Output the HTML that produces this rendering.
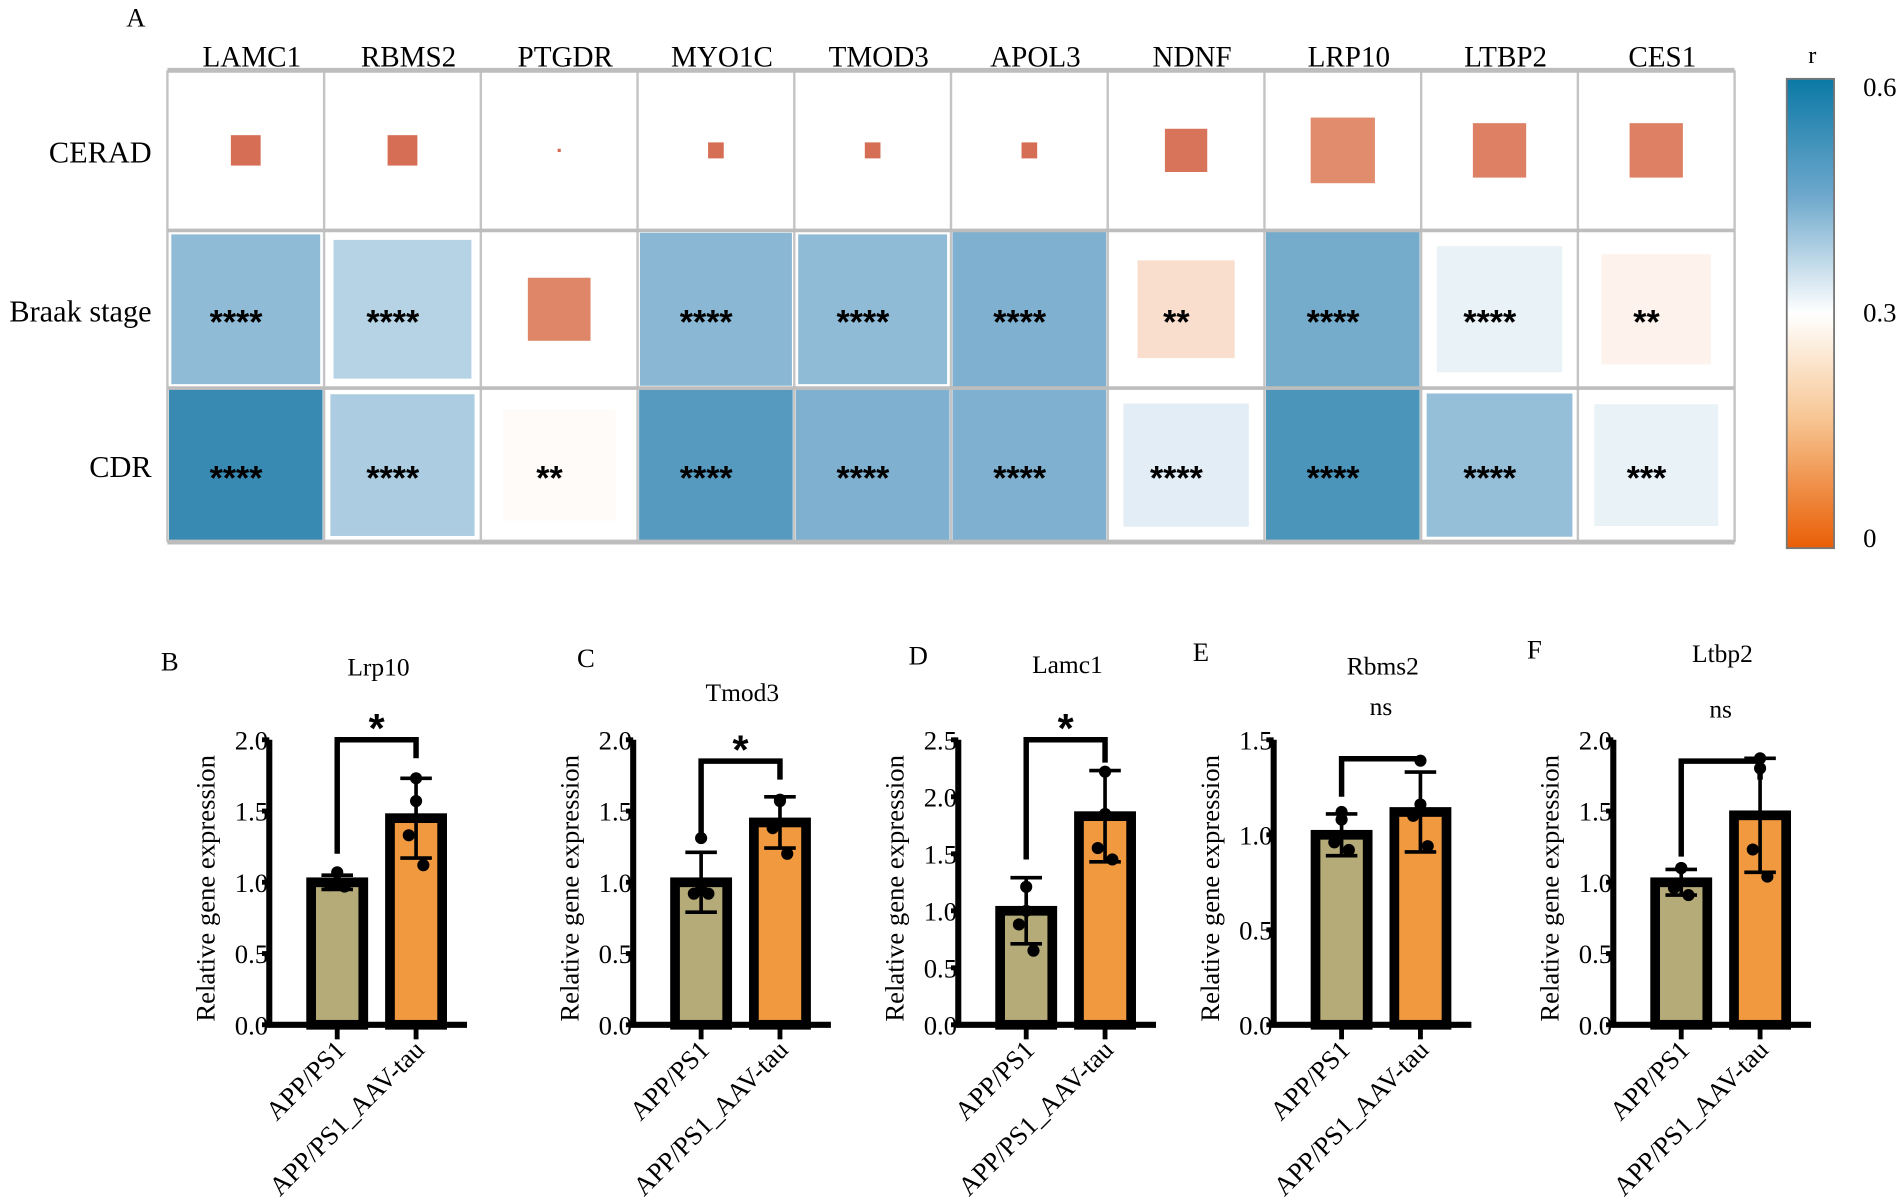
<!DOCTYPE html>
<html><head><meta charset="utf-8"><style>
html,body{margin:0;padding:0;background:#fff;}
svg{display:block;font-family:"Liberation Serif",serif;}
</style></head><body>
<svg id="fig" width="1902" height="1197" viewBox="0 0 1568 987" preserveAspectRatio="none" xmlns="http://www.w3.org/2000/svg">
<defs>
<linearGradient id="cbar" x1="0" y1="0" x2="0" y2="1">
<stop offset="0" stop-color="#0b79a6"/><stop offset="0.25" stop-color="#6ea8cc"/><stop offset="0.5" stop-color="#ffffff"/><stop offset="0.72" stop-color="#f7c795"/><stop offset="1" stop-color="#e95e05"/>
</linearGradient>
</defs>
<g id="heat"></g>
<g id="bars"></g>
</svg>
<script>
const genes = ["LAMC1","RBMS2","PTGDR","MYO1C","TMOD3","APOL3","NDNF","LRP10","LTBP2","CES1"];
const traits = ["CERAD","Braak stage","CDR"];
const rCERAD = [0.09,0.09,0.08,0.09,0.09,0.09,0.10,0.14,0.12,0.12];
const rBraak = [0.47,0.40,0.13,0.48,0.47,0.50,0.22,0.51,0.33,0.27];
const rCDR = [0.57,0.42,0.29,0.54,0.50,0.50,0.34,0.55,0.46,0.33];
const sizeCERAD = [0.19,0.19,0.02,0.10,0.10,0.10,0.27,0.41,0.34,0.34];
const sizeBraak = [0.95,0.88,0.40,0.97,0.95,0.98,0.62,0.98,0.80,0.70];
const sizeCDR = [0.98,0.92,0.72,0.98,0.98,0.98,0.80,0.98,0.93,0.79];
const sigCERAD = ["","","","","","","","","",""];
const sigBraak = ["****","****","","****","****","****","**","****","****","**"];
const sigCDR = ["****","****","**","****","****","****","****","****","****","***"];
const cbarTicks = ["0.6","0.3","0"];

const NS="http://www.w3.org/2000/svg";
function mk(tag,attrs,parent,text){const e=document.createElementNS(NS,tag);for(const k in attrs)e.setAttribute(k,attrs[k]);if(text!==undefined)e.textContent=text;parent.appendChild(e);return e;}
const stops=[[0,[232,96,10]],[0.08,[212,104,80]],[0.15,[227,146,114]],[0.22,[249,222,205]],[0.3,[255,255,255]],[0.4,[182,211,229]],[0.5,[127,176,207]],[0.6,[26,122,166]]];
function col(v){for(let i=1;i<stops.length;i++){if(v<=stops[i][0]){const a=stops[i-1],b=stops[i];const t=(v-a[0])/(b[0]-a[0]);const c=a[1].map((x,j)=>Math.round(x+(b[1][j]-x)*t));return `rgb(${c.join(",")})`;}}return "rgb(26,122,166)";}

const heat=document.getElementById('heat');
const gx0=138,gx1=1430,rowsY=[58,190,320,447];
const cw=(gx1-gx0)/genes.length;
const xCell=i=>gx0+i*cw;
const rows=[[rCERAD,sizeCERAD,sigCERAD],[rBraak,sizeBraak,sigBraak],[rCDR,sizeCDR,sigCDR]];
let t=mk('text',{x:112,y:22,'font-size':22,'text-anchor':'middle'},heat,'A');

genes.forEach((g,i)=>{const e=mk('text',{x:xCell(i)+cw/2+5,y:55,'font-size':24,'text-anchor':'middle'},heat,g);
});
traits.forEach((tr,r)=>{const e=mk('text',{x:125,y:(rowsY[r]+rowsY[r+1])/2+10,'font-size':25,'text-anchor':'end'},heat,tr);
});
rows.forEach((row,r)=>{const y0=rowsY[r],h=rowsY[r+1]-y0;
genes.forEach((g,i)=>{const x0=xCell(i);const s=row[1][i];const w=cw*s,hh=h*s;
const rc=mk('rect',{x:x0+(cw-w)/2,y:y0+(h-hh)/2,width:w,height:hh,fill:col(row[0][i])},heat);

if(row[2][i]){const st=mk('text',{x:x0+cw/2-8,y:y0+h/2+20,'font-size':28,'font-weight':'bold','text-anchor':'middle','font-family':'Liberation Sans, sans-serif'},heat,row[2][i]);
}
});});
for(let i=0;i<=genes.length;i++){const l=mk('line',{x1:xCell(i),x2:xCell(i),y1:58,y2:447,stroke:'#c4c4c4','stroke-width':2},heat);
}
rowsY.forEach(y=>{const l=mk('line',{x1:gx0,x2:gx1,y1:y,y2:y,stroke:'#bdbdbd','stroke-width':(y===58||y===447)?4:3},heat);
});
const cb=mk('rect',{x:1473,y:65,width:39,height:387,fill:'url(#cbar)',stroke:'#777','stroke-width':1.5},heat);

const rt=mk('text',{x:1494,y:52,'font-size':20,'text-anchor':'middle'},heat,'r');

cbarTicks.forEach((tk,i)=>{const e=mk('text',{x:1536,y:79+i*186,'font-size':22},heat,tk);
});

// bar panels
const panelLetters=["B","C","D","E","F"];
const panelTitles=["Lrp10","Tmod3","Lamc1","Rbms2","Ltbp2"];
const groups=["APP/PS1","APP/PS1_AAV-tau"];
const yMax=[2.0,2.0,2.5,1.5,2.0];
const yStep=[0.5,0.5,0.5,0.5,0.5];
const means=[[1.0,1.45],[1.0,1.42],[1.0,1.83],[1.0,1.12],[1.0,1.47]];
const sds=[[0.05,0.28],[0.21,0.18],[0.29,0.40],[0.11,0.21],[0.09,0.40]];
const pts=[[[1.07,1.0,0.98,0.97],[1.73,1.57,1.33,1.12]],[[1.31,0.97,0.92,0.92],[1.58,1.57,1.38,1.2]],[[1.21,1.0,0.88,0.65],[2.22,1.85,1.55,1.45]],[[1.12,1.08,0.96,0.92],[1.39,1.16,1.1,0.94]],[[1.1,1.1,0.96,0.91],[1.87,1.8,1.23,1.04]]];
const sigLabel=["*","*","*","ns","ns"];
const bracketTop=[2.0,1.85,2.5,1.4,1.85];
const bracketLegs=[[1.2,1.87],[1.3,1.72],[1.45,2.3],[1.2,1.4],[1.18,1.72]];
const axisX=[222,522,790,1050,1330];
const titleY=[557,578,555,556,546];
const letterPos=[[140,553],[483,550],[757,548],[990,545],[1265,543]];
const bars=document.getElementById('bars');
const y0=845,yTop=610;
axisX.forEach((ax,p)=>{
 const g=mk('g',{},bars);
 const Y=v=>y0-(v/yMax[p])*(y0-yTop);
 const X=i=>ax+56+i*65;
 let e=mk('text',{x:letterPos[p][0],y:letterPos[p][1],'font-size':22,'text-anchor':'middle'},g,panelLetters[p]);
 
 e=mk('text',{x:ax+90,y:titleY[p],'font-size':21,'text-anchor':'middle'},g,panelTitles[p]);
 
 e=mk('text',{x:0,y:0,'font-size':22,'text-anchor':'middle',transform:`translate(${ax-45},${(y0+yTop)/2+5}) rotate(-90)`},g,'Relative gene expression');
 
 groups.forEach((gr,i)=>{const x=X(i),w=43;
  e=mk('rect',{x:x-w/2,y:Y(means[p][i]),width:w,height:y0-Y(means[p][i]),fill:i?'#f0993f':'#b5ab78',stroke:'#000','stroke-width':8},g);
  
  const hi=means[p][i]+sds[p][i],lo=means[p][i]-sds[p][i];
  e=mk('path',{d:`M${x},${Y(lo)}V${Y(hi)}M${x-13},${Y(hi)}H${x+13}M${x-13},${Y(lo)}H${x+13}`,stroke:'#000','stroke-width':3,fill:'none'},g);
  
  pts[p][i].forEach((v,k)=>{const dx=[0,0,-6,6][k];e=mk('circle',{cx:x+dx,cy:Y(v),r:5,fill:'#000'},g);
   });
  e=mk('line',{x1:x,x2:x,y1:y0,y2:y0+12,stroke:'#000','stroke-width':4},g);
  
  e=mk('text',{x:0,y:0,'font-size':22,'text-anchor':'end',transform:`translate(${x+8},${y0+22}) rotate(-45)`},g,gr);
  
 });
 e=mk('path',{d:`M${ax},${yTop}V${y0}H${ax+163}`,stroke:'#000','stroke-width':5,fill:'none'},g);
 
 for(let v=0;v<=yMax[p]+1e-9;v+=yStep[p]){
  e=mk('line',{x1:ax-6,x2:ax,y1:Y(v),y2:Y(v),stroke:'#000','stroke-width':4},g);
  
  e=mk('text',{x:ax-1,y:Y(v)+8,'font-size':22,'text-anchor':'end'},g,v.toFixed(1));
  
 }
 const bt=Y(bracketTop[p]);
 e=mk('path',{d:`M${X(0)},${Y(bracketLegs[p][0])}V${bt}H${X(1)}V${Y(bracketLegs[p][1])}`,stroke:'#000','stroke-width':4.5,fill:'none'},g);
 
 const isStar=sigLabel[p]==='*';
 e=mk('text',{x:(X(0)+X(1))/2,y:isStar?bt+2:bt-36,'font-size':isStar?34:21,'font-weight':isStar?'bold':'normal','text-anchor':'middle','font-family':isStar?'Liberation Sans, sans-serif':'Liberation Serif, serif'},g,sigLabel[p]);
 
});
</script>
</body></html>
